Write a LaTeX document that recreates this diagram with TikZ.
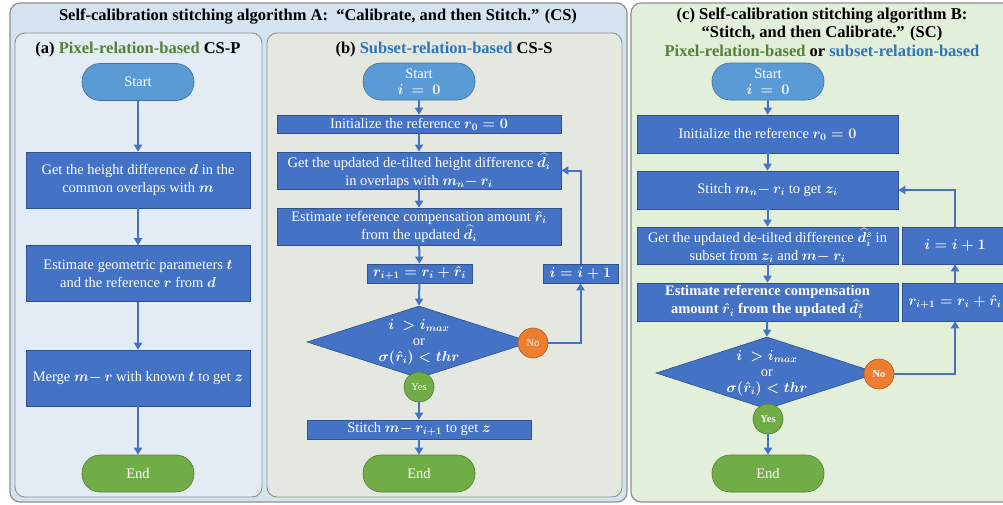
\documentclass[tikz,border=0pt]{standalone}
\usepackage{amsmath}
\usepackage{fontspec}
\setmainfont{Liberation Serif}
\usetikzlibrary{arrows.meta,shapes.geometric}
\definecolor{boxblue}{HTML}{4472C4}
\definecolor{boxedge}{HTML}{2F528F}
\definecolor{startblue}{HTML}{5B9BD5}
\definecolor{startedge}{HTML}{41719C}
\definecolor{endgreen}{HTML}{70AD47}
\definecolor{endedge}{HTML}{507E32}
\definecolor{noorange}{HTML}{ED7D31}
\definecolor{noedge}{HTML}{AE5A21}
\definecolor{panelA}{HTML}{D5E3F1}
\definecolor{panela}{HTML}{E3EBF5}
\definecolor{panelb}{HTML}{E4E8E0}
\definecolor{panelc}{HTML}{E2EFDA}
\definecolor{titlegreen}{HTML}{548235}
\definecolor{titleblue}{HTML}{2E75B6}
\definecolor{panelline}{HTML}{8F8F8F}
\tikzset{
  panel/.style={draw=panelline, line width=0.9pt, rounded corners=10pt},
  procbox/.style={rectangle, draw=boxedge, line width=0.6pt, fill=boxblue, text=white, align=center, inner sep=1pt, font=\fontsize{14.5}{18}\selectfont\boldmath},
  stadium/.style={rectangle, rounded corners=18pt, line width=0.6pt, text=white, align=center, inner sep=1pt, minimum width=112pt, minimum height=37pt, font=\fontsize{14.5}{16}\selectfont\boldmath},
  startnode/.style={stadium, fill=startblue, draw=startedge},
  endnode/.style={stadium, fill=endgreen, draw=endedge},
  decision/.style={diamond, fill=boxblue, draw=boxedge, line width=0.6pt, inner sep=0pt, minimum width=224pt, minimum height=72pt},
  dectext/.style={text=white, align=center, inner sep=0pt, font=\fontsize{14.5}{16}\selectfont\boldmath},
  nocircle/.style={circle, fill=noorange, draw=noedge, line width=0.6pt, minimum size=30pt, inner sep=0pt, text=white, font=\fontsize{10.5}{11}\selectfont},
  yescircle/.style={circle, fill=endgreen, draw=endedge, line width=0.6pt, minimum size=30pt, inner sep=0pt, text=white, font=\fontsize{10.5}{11}\selectfont},
  flow/.style={draw=boxblue, line width=2pt, -{Triangle[length=7pt,width=8pt]}},
  ttl/.style={font=\fontsize{16.5}{18.5}\selectfont\bfseries, align=center, inner sep=0pt}
}
\begin{document}
\begin{tikzpicture}[x=1pt,y=-1pt]
\useasboundingbox (0,0) rectangle (1003,504);
% panels
\draw[panel, fill=panelA, line width=1.2pt] (10,3) rectangle (627,502);
\draw[panel, fill=panela] (15,33) rectangle (262,497);
\draw[panel, fill=panelb] (267,33) rectangle (622,497);
\draw[panel, fill=panelc, line width=1.2pt] (631,3) rectangle (1020,502);

\node[ttl] (titleA) at (318,17) {Self-calibration stitching algorithm A: \ “Calibrate, and then Stitch.” (CS)};

% ---------- panel (a)
\node[ttl] (titlea) at (138,50) {(a) {\color{titlegreen}Pixel-relation-based} CS-P};
\node[startnode] (startA) at (138,82) {Start};
\node[procbox, minimum width=224pt, minimum height=56pt] (a1) at (138,180) {Get the height difference $d$ in the\\common overlaps with $m$};
\node[procbox, minimum width=224pt, minimum height=56pt] (a2) at (138,273.5) {Estimate geometric parameters $t$\\and the reference $r$ from $d$};
\node[procbox, minimum width=224pt, minimum height=56pt] (a3) at (138,378) {Merge $m{-}\,r$ with known $t$ to get $z$};
\node[endnode] (endA) at (138,473.5) {End};
\draw[flow] (startA) -- (a1);
\draw[flow] (a1) -- (a2);
\draw[flow] (a2) -- (a3);
\draw[flow] (a3) -- (endA);

% ---------- panel (b)
\node[ttl] (titleb) at (444,50) {(b) {\color{titleblue}Subset-relation-based} CS-S};
\node[startnode] (startB) at (419,81.5) {Start\\$i\ =\ 0$};
\node[procbox, minimum width=284pt, minimum height=18pt] (initB) at (419,124) {Initialize the reference $r_0=0$};
\node[procbox, minimum width=284pt, minimum height=37pt] (getB) at (419,170.5) {Get the updated de-tilted height difference $\widehat{d}_i$\\in overlaps with $m_n{-}\,r_i$};
\node[procbox, minimum width=284pt, minimum height=37pt] (estB) at (419,226.5) {Estimate reference compensation amount $\hat{r}_i$\\from the updated $\widehat{d}_i$};
\node[procbox, minimum width=105pt, minimum height=19pt] (rB) at (419.5,273.5) {$r_{i+1}=r_i+\hat{r}_i$};
\node[procbox, minimum width=75pt, minimum height=19pt] (incB) at (580.5,273.5) {$i=i+1$};
\node[decision] (diaB) at (419,342) {};
\node[dectext] (diaBt) at (419,342) {$i\ >i_{max}$\\or\\$\sigma(\hat{r}_i)<thr$};
\node[nocircle] (noB) at (533,343) {No};
\node[yescircle] (yesB) at (419,387) {Yes};
\node[procbox, minimum width=224pt, minimum height=19pt] (stitchB) at (419,429.5) {Stitch $m{-}\,r_{i+1}$ to get $z$};
\node[endnode] (endB) at (419,473.5) {End};
\draw[flow] (startB) -- (initB);
\draw[flow] (initB) -- (getB);
\draw[flow] (getB) -- (estB);
\draw[flow] (estB) -- (rB);
\draw[flow] (rB) -- (diaB.north);
\draw[flow] (noB.east) -| (incB.south);
\draw[flow] (incB.north) |- (getB.east);
\draw[flow] (yesB) -- (stitchB);
\draw[flow] (stitchB) -- (endB);

% ---------- panel (c)
\node[ttl] (titlec) at (822,32) {(c) Self-calibration stitching algorithm B:\\“Stitch, and then Calibrate.” (SC)\\{\color{titlegreen}Pixel-relation-based} or {\color{titleblue}subset-relation-based}};
\node[startnode] (startC) at (768,81.5) {Start\\$i\ =\ 0$};
\node[procbox, minimum width=261pt, minimum height=38pt] (initC) at (767.5,134) {Initialize the reference $r_0=0$};
\node[procbox, minimum width=261pt, minimum height=38pt] (stitchC) at (767.5,190) {Stitch $m_n{-}\,r_i$ to get $z_i$};
\node[procbox, minimum width=261pt, minimum height=37pt] (getC) at (767.5,245.5) {Get the updated de-tilted difference $\widehat{d}{}_i^s$ in\\subset from $z_i$ and $m{-}\ r_i$};
\node[procbox, minimum width=261pt, minimum height=38pt, font=\fontsize{14.5}{18}\selectfont\bfseries\boldmath] (estC) at (767.5,302) {Estimate reference compensation\\amount $\hat{r}_i$ from the updated $\widehat{d}{}_i^s$};
\node[procbox, minimum width=106pt, minimum height=37pt] (incC) at (955,245.5) {$i=i+1$};
\node[procbox, minimum width=106pt, minimum height=38pt] (rC) at (955,302) {$r_{i+1}=r_i+\hat{r}_i$};
\node[decision, minimum width=222pt] (diaC) at (767,373) {};
\node[dectext] (diaCt) at (767,373) {$i\ >i_{max}$\\or\\$\sigma(\hat{r}_i)<thr$};
\node[nocircle, font=\fontsize{10.5}{11}\selectfont\bfseries] (noC) at (879,374) {No};
\node[yescircle, font=\fontsize{10.5}{11}\selectfont\bfseries] (yesC) at (768,419) {Yes};
\node[endnode] (endC) at (768,473.5) {End};
\draw[flow] (startC) -- (initC);
\draw[flow] (initC) -- (stitchC);
\draw[flow] (stitchC) -- (getC);
\draw[flow] (getC) -- (estC);
\draw[flow] (estC) -- (diaC.north);
\draw[flow] (yesC) -- (endC);
\draw[flow] (noC.east) -| (rC.south);
\draw[flow] (rC) -- (incC);
\draw[flow] (incC.north) |- (stitchC.east);
\end{tikzpicture}
\end{document}
